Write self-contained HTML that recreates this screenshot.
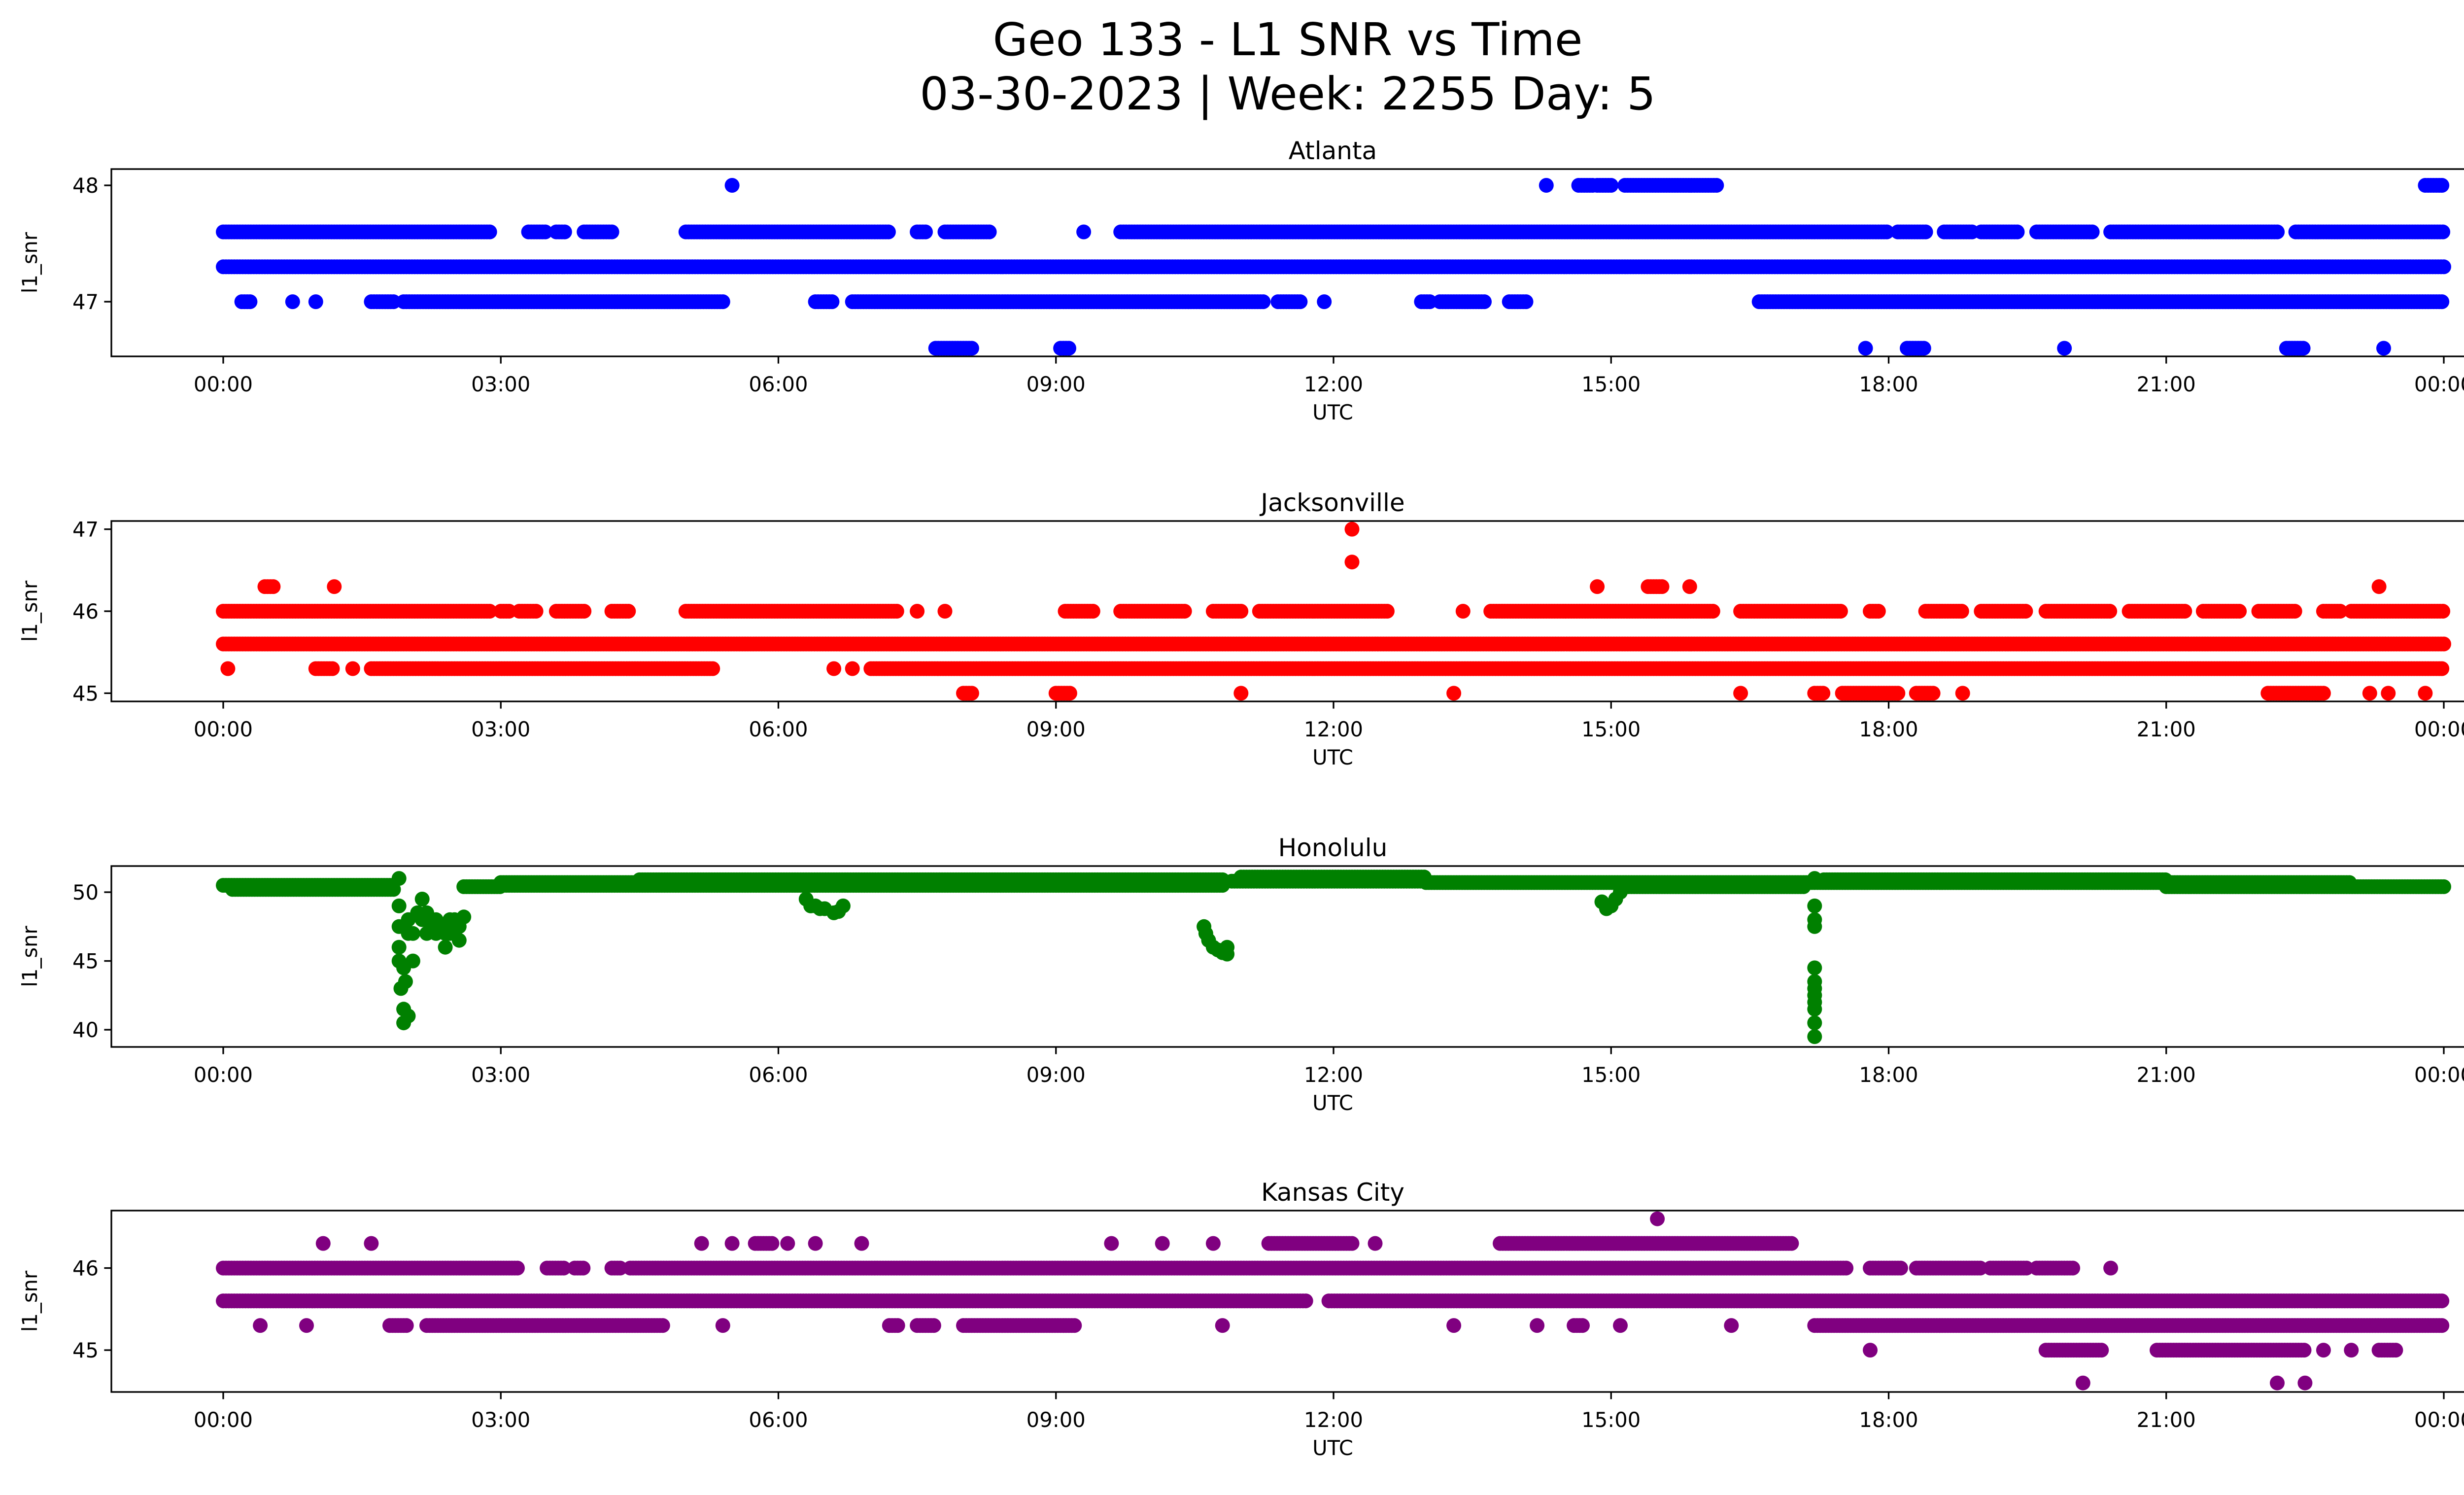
<!DOCTYPE html>
<html><head><meta charset="utf-8"><style>
html,body{margin:0;padding:0;background:#fff;width:5226px;height:3033px;overflow:hidden;}
svg{display:block;font-family:"DejaVu Sans","Liberation Sans",sans-serif;}
</style></head><body>
<svg id="fig" width="5226" height="3033" viewBox="0 0 5226 3033" xmlns="http://www.w3.org/2000/svg">
<rect width="5226" height="3033" fill="#fff"/>
<text x="2613" y="112" text-anchor="middle" font-size="92">Geo 133 - L1 SNR vs Time</text>
<text x="2613" y="222" text-anchor="middle" font-size="92">03-30-2023 | Week: 2255 Day: 5</text>
</svg>
<script>
// ---- data: segments are [value, startHour, endHour]; points are [hour, value]
const xTickLabels = ["00:00","03:00","06:00","09:00","12:00","15:00","18:00","21:00","00:00"];
const xTickHours = [0,3,6,9,12,15,18,21,24];

const atlantaYTicks = [47,48];
const atlantaSegments = [
 [47.3,0,24],
 [47.6,0,2.9],[47.6,3.3,3.5],[47.6,3.6,3.7],[47.6,3.9,4.2],[47.6,5.0,7.2],[47.6,7.5,7.6],[47.6,7.8,8.3],[47.6,9.7,18.0],[47.6,18.1,18.4],[47.6,18.6,18.9],[47.6,19.0,19.4],[47.6,19.6,20.2],[47.6,20.4,22.2],[47.6,22.4,24],
 [47.0,0.2,0.3],[47.0,1.6,1.85],[47.0,1.95,5.4],[47.0,6.4,6.6],[47.0,6.8,11.25],[47.0,11.4,11.65],[47.0,12.95,13.05],[47.0,13.15,13.65],[47.0,13.9,14.1],[47.0,16.6,24],
 [46.6,7.7,8.1],[46.6,9.05,9.15],[46.6,18.2,18.4],[46.6,22.3,22.5],
 [48.0,14.65,14.8],[48.0,14.85,15.0],[48.0,15.15,16.15],[48.0,23.8,24]
];
const atlantaPoints = [[0.75,47.0],[1.0,47.0],[11.9,47.0],[9.3,47.6],[5.5,48.0],[14.3,48.0],[17.75,46.6],[19.9,46.6],[23.35,46.6]];

const jaxYTicks = [45,46,47];
const jaxSegments = [
 [45.6,0,24],
 [46.0,0,2.9],[46.0,3.0,3.1],[46.0,3.2,3.4],[46.0,3.6,3.9],[46.0,4.2,4.4],[46.0,5.0,7.3],[46.0,9.1,9.4],[46.0,9.7,10.4],[46.0,10.7,11.0],[46.0,11.2,12.6],[46.0,13.7,16.1],[46.0,16.4,17.5],[46.0,17.8,17.9],[46.0,18.4,18.8],[46.0,19.0,19.5],[46.0,19.7,20.4],[46.0,20.6,21.2],[46.0,21.4,21.8],[46.0,22.0,22.4],[46.0,22.7,22.9],[46.0,23.0,24],
 [46.3,0.45,0.55],[46.3,15.4,15.55],
 [45.3,1.0,1.2],[45.3,1.6,5.3],[45.3,7.0,24],
 [45.0,8.0,8.1],[45.0,9.0,9.15],[45.0,17.2,17.3],[45.0,17.5,18.1],[45.0,18.3,18.5],[45.0,22.1,22.7]
];
const jaxPoints = [[7.5,46.0],[7.8,46.0],[13.4,46.0],[1.2,46.3],[14.85,46.3],[15.85,46.3],[23.3,46.3],[12.2,47.0],[12.2,46.6],[0.05,45.3],[1.4,45.3],[6.6,45.3],[6.8,45.3],[11.0,45.0],[13.3,45.0],[16.4,45.0],[18.8,45.0],[23.2,45.0],[23.4,45.0],[23.8,45.0]];

const honYTicks = [40,45,50];
const honSegments = [
 [50.5,0,1.85],[50.2,0.1,1.85],[50.4,2.6,3.0],[50.7,3.0,4.5],[50.5,3.0,10.8],[50.9,4.5,10.8],
 [51.1,11.0,13.0],[50.8,10.9,13.0],[50.7,13.0,21.0],[50.4,15.1,17.1],[50.9,17.3,21.0],[50.4,21.0,24],[50.7,21.0,23.0]
];
const honPoints = [
 [1.9,51],[1.9,49],[1.9,47.5],[1.9,46],[1.9,45],[1.92,43],[1.95,44.5],[1.95,41.5],[1.95,40.5],[2.0,41],[2.0,48],[2.0,47],[2.05,47],[2.05,45],[1.97,43.5],[2.1,48.5],[2.15,49.5],[2.15,48],[2.2,47],[2.2,48.5],[2.25,47.5],[2.3,48],[2.3,47],[2.35,47.5],[2.4,46],[2.4,47],[2.45,47],[2.45,48],[2.5,48],[2.5,47.5],[2.55,46.5],[2.55,47.5],[2.6,48.2],
 [6.3,49.5],[6.35,49],[6.4,49],[6.45,48.8],[6.5,48.8],[6.6,48.5],[6.65,48.6],[6.7,49],
 [10.6,47.5],[10.62,47],[10.65,46.5],[10.7,46],[10.75,45.8],[10.8,45.6],[10.85,45.5],[10.85,46],
 [14.9,49.3],[14.95,48.8],[15.0,49],[15.05,49.5],[15.1,50],
 [17.2,51],[17.2,49],[17.2,48],[17.2,47.5],[17.2,44.5],[17.2,43.5],[17.2,43],[17.2,42.5],[17.2,42],[17.2,41.5],[17.2,40.5],[17.2,39.5]
];

const kcYTicks = [45,46];
const kcSegments = [
 [45.6,0,11.7],[45.6,11.95,24],
 [46.0,0,3.2],[46.0,3.5,3.7],[46.0,3.8,3.9],[46.0,4.2,4.3],[46.0,4.4,17.55],[46.0,17.8,18.15],[46.0,18.3,19.0],[46.0,19.1,19.5],[46.0,19.6,20.0],
 [46.3,5.75,5.95],[46.3,11.3,12.2],[46.3,13.8,16.95],
 [45.3,1.8,2.0],[45.3,2.2,4.75],[45.3,7.2,7.3],[45.3,7.5,7.7],[45.3,8.0,9.2],[45.3,14.6,14.7],[45.3,17.2,24],
 [45.0,19.7,20.3],[45.0,20.9,22.5],[45.0,23.3,23.5]
];
const kcPoints = [[20.4,46.0],[1.08,46.3],[1.6,46.3],[5.17,46.3],[5.5,46.3],[6.1,46.3],[6.4,46.3],[6.9,46.3],[9.6,46.3],[10.15,46.3],[10.7,46.3],[12.45,46.3],[15.5,46.6],[0.4,45.3],[0.9,45.3],[5.4,45.3],[10.8,45.3],[13.3,45.3],[14.2,45.3],[15.1,45.3],[16.3,45.3],[17.8,45.0],[22.7,45.0],[23.0,45.0],[20.1,44.6],[22.2,44.6],[22.5,44.6]];

// ---- layout (geometry, not data)
const X0 = 226, X1 = 5183, T0px = 453, T24px = 4959;
const panels = [
 {name:"atlanta", title:"Atlanta", color:"#0000ff", top:343, bottom:723, ymin:46.53, ymax:48.14, ticks:atlantaYTicks, seg:atlantaSegments, pts:atlantaPoints},
 {name:"jacksonville", title:"Jacksonville", color:"#ff0000", top:1057, bottom:1423, ymin:44.9, ymax:47.1, ticks:jaxYTicks, seg:jaxSegments, pts:jaxPoints},
 {name:"honolulu", title:"Honolulu", color:"#008000", top:1757, bottom:2124, ymin:38.75, ymax:51.9, ticks:honYTicks, seg:honSegments, pts:honPoints},
 {name:"kansas-city", title:"Kansas City", color:"#800080", top:2456, bottom:2824, ymin:44.49, ymax:46.70, ticks:kcYTicks, seg:kcSegments, pts:kcPoints}
];
const NS = "http://www.w3.org/2000/svg";
const svg = document.getElementById("fig");
function mk(tag, attrs, parent){ const e=document.createElementNS(NS,tag); for(const k in attrs) e.setAttribute(k,attrs[k]); parent.appendChild(e); return e; }
function xScale(h){ return T0px + (h/24)*(T24px-T0px); }
const R = 15, STEP = 0.03;

panels.forEach(p=>{
  const yScale = v => p.bottom - (v-p.ymin)/(p.ymax-p.ymin)*(p.bottom-p.top);
  const g = mk("g",{},svg);
  
  
  const clip = mk("clipPath",{id:"clip-"+p.name},g);
  mk("rect",{x:X0,y:p.top,width:X1-X0,height:p.bottom-p.top},clip);
  const marks = mk("g",{"clip-path":"url(#clip-"+p.name+")",fill:p.color},g);
  
  
  p.seg.forEach(s=>{
    const y = yScale(s[0]);
    for(let h=s[1]; h<=s[2]+1e-9; h+=STEP){
      const c = mk("circle",{cx:xScale(h).toFixed(1),cy:y.toFixed(1),r:R},marks);
      
      
    }
  });
  p.pts.forEach(pt=>{
    const c = mk("circle",{cx:xScale(pt[0]).toFixed(1),cy:yScale(pt[1]).toFixed(1),r:R},marks);
    
    
  });
  const frame = mk("rect",{x:X0,y:p.top,width:X1-X0,height:p.bottom-p.top,fill:"none",stroke:"#000","stroke-width":3.3},g);
  
  
  xTickHours.forEach((h,i)=>{
    const x = xScale(h);
    mk("line",{x1:x,x2:x,y1:p.bottom,y2:p.bottom+14.6,stroke:"#000","stroke-width":3.3},g);
    const t = mk("text",{x:x,y:p.bottom+71,"text-anchor":"middle","font-size":41.7},g);
    t.textContent = xTickLabels[i];
    
    
  });
  p.ticks.forEach(v=>{
    const y = yScale(v);
    mk("line",{x1:X0-14.6,x2:X0,y1:y,y2:y,stroke:"#000","stroke-width":3.3},g);
    const t = mk("text",{x:X0-26,y:y+15,"text-anchor":"end","font-size":41.7},g);
    t.textContent = String(v);
    
    
  });
  const xl = mk("text",{x:(X0+X1)/2,y:p.bottom+128,"text-anchor":"middle","font-size":41.7},g);
  xl.textContent = "UTC";
  
  
  const yc = (p.top+p.bottom)/2;
  const yl = mk("text",{x:75,y:yc,"text-anchor":"middle","font-size":41.7,transform:"rotate(-90 75 "+yc+")"},g);
  yl.textContent = "l1_snr";
  
  
  const tt = mk("text",{x:(X0+X1)/2,y:p.top-20,"text-anchor":"middle","font-size":50},g);
  tt.textContent = p.title;
  
  
});
</script>
</body></html>
